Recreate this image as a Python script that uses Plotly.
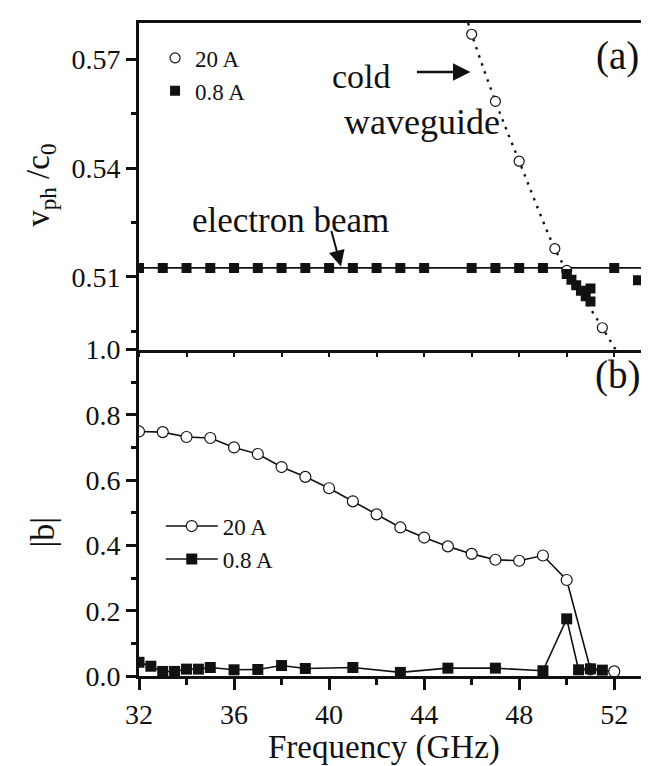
import plotly.graph_objects as go

# ---------------- data ----------------
# (a) phase velocity panel
beam_f = [32, 54]
beam_v = [0.5125, 0.5125]

cw_f = [45.85, 46, 47, 48, 49.5, 50, 51.5, 52.05]
cw_v = [0.58, 0.5769, 0.5584, 0.5419, 0.5178, 0.5118, 0.4960, 0.49]

a20_f = [46, 47, 48, 49.5, 50, 51.5]
a20_v = [0.5769, 0.5584, 0.5419, 0.5178, 0.5118, 0.4960]

a08_f = [32, 33, 34, 35, 36, 37, 38, 39, 40, 41, 42, 43, 44, 46, 47, 48, 49,
         50.0, 50.2, 50.4, 50.6, 50.8, 51.0, 51.0, 52, 53]
a08_v = [0.5125] * 17 + [0.5108, 0.5092, 0.5077, 0.5062, 0.5047, 0.5032, 0.5068,
                         0.5125, 0.5091]

# (b) |b| panel
b20_f = [32, 33, 34, 35, 36, 37, 38, 39, 40, 41, 42, 43, 44, 45, 46, 47, 48, 49, 50, 51, 52]
b20_v = [0.749, 0.747, 0.732, 0.729, 0.700, 0.680, 0.640, 0.610, 0.575, 0.535, 0.495,
         0.455, 0.424, 0.397, 0.374, 0.356, 0.353, 0.369, 0.294, 0.020, 0.014]

b08_f = [32, 32.5, 33, 33.5, 34, 34.5, 35, 36, 37, 38, 39, 41, 43, 45, 47, 49, 50, 50.5, 51, 51.5]
b08_v = [0.042, 0.030, 0.014, 0.014, 0.021, 0.021, 0.026, 0.019, 0.020, 0.032, 0.023,
         0.026, 0.011, 0.024, 0.024, 0.016, 0.175, 0.019, 0.022, 0.018]

top_ticks = [0.51, 0.54, 0.57]
bot_ticks = [0.0, 0.2, 0.4, 0.6, 0.8, 1.0]

FONT = "Times New Roman, Liberation Serif, DejaVu Serif, serif"
BLACK = "#111111"

fig = go.Figure()

# top panel
fig.add_trace(go.Scatter(x=beam_f, y=beam_v, xaxis="x2", yaxis="y2", mode="lines",
                         line=dict(color=BLACK, width=1.6), showlegend=False, hoverinfo="skip"))
fig.add_trace(go.Scatter(x=cw_f, y=cw_v, xaxis="x2", yaxis="y2", mode="lines",
                         line=dict(color=BLACK, width=2.4, dash="2.5px,6px", shape="spline"),
                         showlegend=False, hoverinfo="skip"))
fig.add_trace(go.Scatter(x=a20_f, y=a20_v, xaxis="x2", yaxis="y2", mode="markers", name="20 A",
                         marker=dict(symbol="circle", size=10, color="white",
                                     line=dict(color=BLACK, width=1.2)),
                         legend="legend"))
fig.add_trace(go.Scatter(x=a08_f, y=a08_v, xaxis="x2", yaxis="y2", mode="markers", name="0.8 A",
                         marker=dict(symbol="square", size=10, color=BLACK,
                                     line=dict(color=BLACK, width=0)),
                         legend="legend"))

# bottom panel
fig.add_trace(go.Scatter(x=b20_f, y=b20_v, xaxis="x", yaxis="y", mode="lines+markers", name="20 A",
                         line=dict(color=BLACK, width=1.6),
                         marker=dict(symbol="circle", size=11, color="white",
                                     line=dict(color=BLACK, width=1.2)),
                         legend="legend2"))
fig.add_trace(go.Scatter(x=b08_f, y=b08_v, xaxis="x", yaxis="y", mode="lines+markers", name="0.8 A",
                         line=dict(color=BLACK, width=1.6),
                         marker=dict(symbol="square", size=11, color=BLACK,
                                     line=dict(color=BLACK, width=0)),
                         legend="legend2"))

tickfont = dict(family=FONT, size=28, color=BLACK)

fig.update_layout(
    width=649, height=766,
    margin=dict(l=131, r=0, t=3, b=98),
    paper_bgcolor="white", plot_bgcolor="white",
    font=dict(family=FONT, color=BLACK),
    xaxis=dict(domain=[0, 1], anchor="y", range=[32, 53.8], showgrid=False, zeroline=False,
               showline=True, linewidth=3, linecolor=BLACK,
               ticks="outside", ticklen=11, tickwidth=3, tickcolor=BLACK,
               tickmode="linear", tick0=32, dtick=4, tickfont=tickfont,
               minor=dict(ticks="outside", ticklen=6, tickwidth=3, tickcolor=BLACK,
                          tick0=32, dtick=2, showgrid=False)),
    xaxis2=dict(domain=[0, 1], anchor="y2", matches="x", range=[32, 53.8], showgrid=False,
                zeroline=False, showline=True, linewidth=3, linecolor=BLACK, mirror=True,
                showticklabels=False,
                ticks="outside", ticklen=4, tickwidth=2, tickcolor=BLACK,
                tickmode="linear", tick0=32, dtick=4,
                minor=dict(ticks="outside", ticklen=4, tickwidth=2, tickcolor=BLACK,
                           tick0=32, dtick=2, showgrid=False)),
    yaxis=dict(domain=[0, 0.5], anchor="x", range=[0, 1.0], showgrid=False, zeroline=False,
               showline=True, linewidth=3, linecolor=BLACK,
               ticks="outside", ticklen=10, tickwidth=3, tickcolor=BLACK,
               tickmode="array", tickvals=bot_ticks, ticktext=[f"{v:.1f}" for v in bot_ticks],
               tickfont=tickfont,
               minor=dict(ticks="outside", ticklen=5, tickwidth=3, tickcolor=BLACK,
                          tick0=0, dtick=0.1, showgrid=False)),
    yaxis2=dict(domain=[0.5, 1], anchor="x2", range=[0.49, 0.58], showgrid=False, zeroline=False,
                showline=True, linewidth=3, linecolor=BLACK,
                ticks="outside", ticklen=10, tickwidth=3, tickcolor=BLACK,
                tickmode="array", tickvals=top_ticks, ticktext=[f"{v:.2f}" for v in top_ticks],
                tickfont=tickfont,
                minor=dict(ticks="outside", ticklen=5, tickwidth=3, tickcolor=BLACK,
                           tick0=0.495, dtick=0.015, showgrid=False)),
    legend=dict(x=0.031, y=0.9795, xanchor="left", yanchor="top",
                font=dict(family=FONT, size=23, color=BLACK),
                bgcolor="rgba(0,0,0,0)", borderwidth=0, tracegroupgap=0),
    legend2=dict(x=0.042, y=0.2625, xanchor="left", yanchor="top",
                 font=dict(family=FONT, size=23, color=BLACK), itemwidth=52,
                 bgcolor="rgba(0,0,0,0)", borderwidth=0, tracegroupgap=0),
)

ann = []
def txt(text, x, y, size, angle=0):
    ann.append(dict(text=text, x=x, y=y, xref="paper", yref="paper", showarrow=False,
                    xanchor="center", yanchor="middle", textangle=angle,
                    font=dict(family=FONT, size=size, color=BLACK)))

txt("(a)", 0.9247, 0.9494, 39)
txt("(b)", 0.9247, 0.4605, 39)
txt("electron beam", 0.2934, 0.6982, 35)
txt("cold", 0.4305, 0.9179, 34)
txt("waveguide", 0.5463, 0.8486, 36)
txt("Frequency (GHz)", 0.473, -0.1098, 33)
txt("v<sub>ph</sub> /c<sub>0</sub>", -0.1892, 0.7523, 33, -90)
txt("|b|", -0.1853, 0.2197, 34, -90)

# arrows
ann.append(dict(x=40.5, y=0.5129, xref="x2", yref="y2", ax=-10, ay=-37, text="",
                showarrow=True, arrowhead=2, arrowsize=1.6, arrowwidth=2, arrowcolor=BLACK))
ann.append(dict(x=45.95, y=0.5665, xref="x2", yref="y2", ax=-55, ay=0, text="",
                showarrow=True, arrowhead=2, arrowsize=1.4, arrowwidth=2.5, arrowcolor=BLACK))

fig.update_layout(annotations=ann)

fig.write_html("out.html")
